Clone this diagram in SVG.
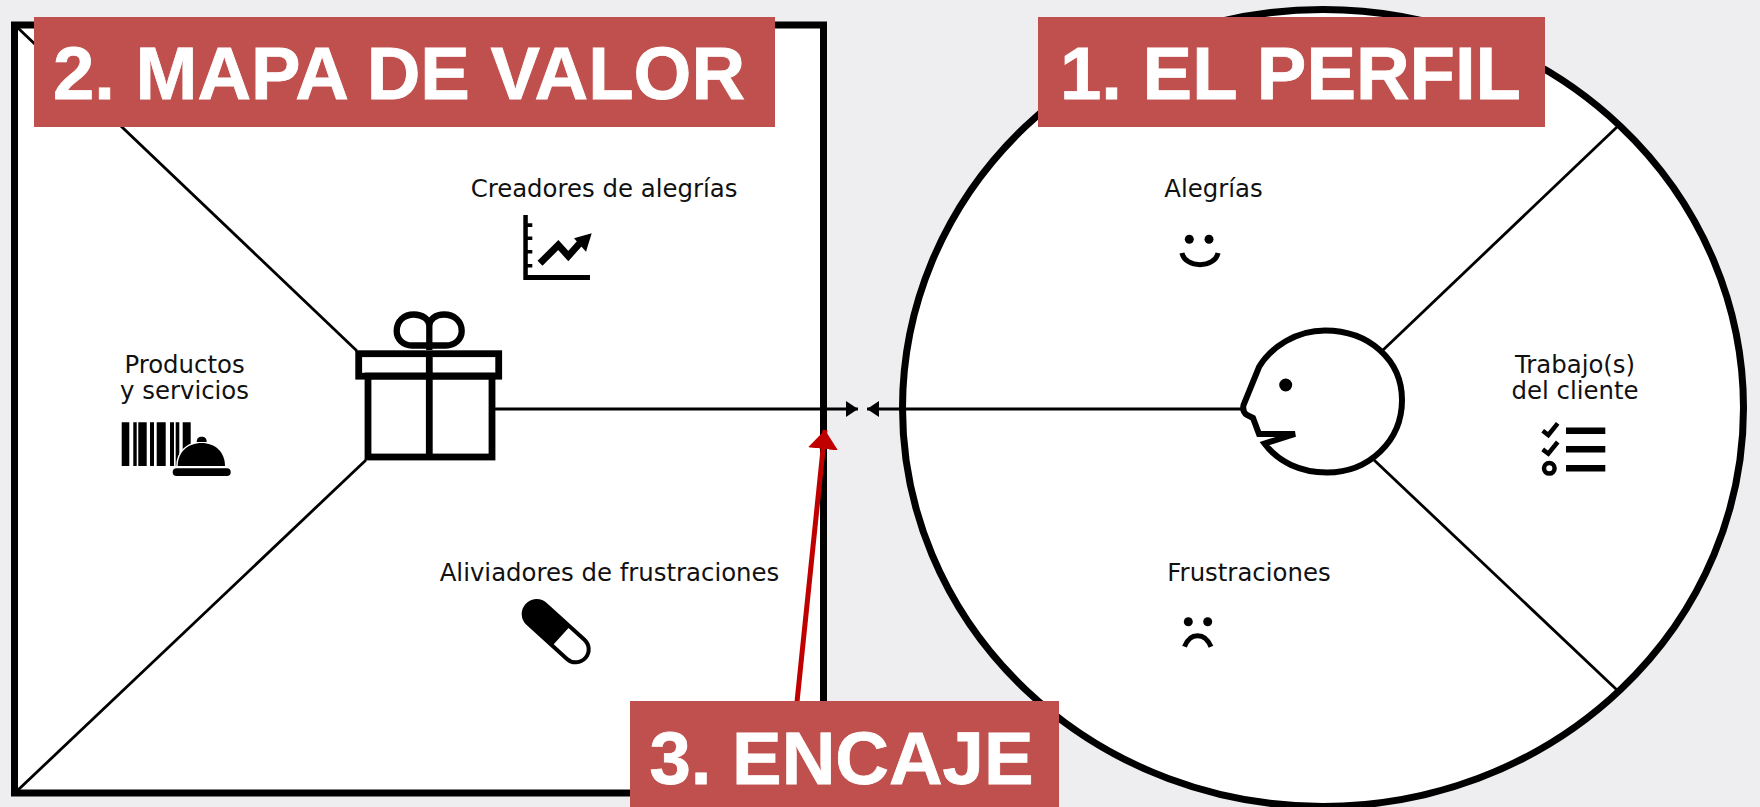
<svg xmlns="http://www.w3.org/2000/svg" width="1760" height="807" viewBox="0 0 1760 807">
<style>
.bk{fill:none;stroke:#000;stroke-linejoin:miter}
.sep{fill:none;stroke:#000;stroke-width:2.8}
.f{fill:#000;stroke:none}
.lb{font-family:"DejaVu Sans","Liberation Sans",sans-serif;font-size:24.4px;fill:#111;text-anchor:middle}
.banner{fill:#c0504d}
.bt{font-family:"Liberation Sans",Arial,sans-serif;font-weight:700;font-size:74.3px;fill:#fff;stroke:#fff;stroke-width:0.8;text-anchor:middle}
</style>
<defs>
<marker id="ah" markerUnits="userSpaceOnUse" markerWidth="14" markerHeight="16" refX="12" refY="8" orient="auto"><path d="M0 0L12 8L0 16Z" fill="#000"/></marker>
<marker id="ahr" markerUnits="userSpaceOnUse" markerWidth="20" markerHeight="30" refX="19" refY="15" orient="auto"><path d="M0 0L19 15L0 30Z" fill="#c00000"/></marker>
</defs>
<rect width="1760" height="807" fill="#eeeef0"/>
<g id="value-map">
<rect x="14.500" y="25" width="809" height="768" fill="#fff" stroke="#000" stroke-width="7"/>
</g>
<g id="profile">
<ellipse cx="1323" cy="408" rx="420.500" ry="398.500" fill="#fff" stroke="#000" stroke-width="7"/>
</g>
<g id="connectors">
<line class="sep" x1="18" y1="28" x2="357" y2="351"/>
<line class="sep" x1="18" y1="790" x2="366" y2="460"/>
<line class="sep" x1="1382" y1="351" x2="1617" y2="127"/>
<line class="sep" x1="1374" y1="460" x2="1617" y2="690"/>
<line class="sep" x1="495" y1="409" x2="858" y2="409" marker-end="url(#ah)"/>
<line class="sep" x1="1243" y1="409" x2="867" y2="409" marker-end="url(#ah)"/>
<line fill="none" stroke="#c00000" stroke-width="5" x1="797" y1="702" x2="825" y2="430" marker-end="url(#ahr)"/>
</g>
<g id="gift">
<rect class="bk" x="358.700" y="353.700" width="140" height="22.500" stroke-width="6.800"/>
<rect class="bk" x="368" y="376" width="124" height="81" stroke-width="6.800"/>
<line class="bk" x1="429.300" y1="351" x2="429.300" y2="458" stroke-width="6.800"/>
<path class="bk" stroke-width="6.300" stroke-linejoin="round" d="M429.300 326C429.300 319 422 314.500 414 314.500C404 314.500 396.700 321 396.700 331C396.700 339 403 345.500 412 345.500H446C455 345.500 461.700 339 461.700 331C461.700 321 454 314.500 444 314.500C436 314.500 429.300 319 429.300 326V350"/>
</g>
<g id="person">
<path class="bk" stroke-width="6" d="M1295 434L1264.500 443.500C1278 462 1301 472.500 1327 472.500C1369 472.500 1402 441 1402 400C1402 360 1369 330.500 1325 330.500C1296 330.500 1271 347 1259 367L1243.500 405C1242.500 410 1244 413 1247 415L1253 418L1259 434Z"/>
<circle class="f" cx="1285.700" cy="385" r="6.500"/>
</g>
<g id="node-creadores">
<text class="lb" x="604" y="196.500">Creadores de alegrías</text>
<path class="f" d="M523.300 215h4.500v60H590v5h-66.700zM527.800 223.300h4.500v3.600h-4.500zM527.800 236.500h4.500v3.600h-4.500zM527.800 250h4.500v3.600h-4.500zM527.800 264h4.500v3.600h-4.500z"/>
<path class="bk" stroke-width="7" d="M540 263.300L558.300 245L568.300 256L580 243"/>
<path class="f" d="M591.700 233.300L574 238.300L586 251.700Z"/>
</g>
<g id="node-productos">
<text class="lb" x="184.500" y="373">Productos</text>
<text class="lb" x="184.500" y="398.500">y servicios</text>
<path class="f" d="M121.700 422.300h7.600V466h-7.600zM133.300 422.300h3.400V466h-3.400zM138.300 422.300h8.400V466h-8.400zM150 422.300h4V466h-4zM156.700 422.300h9V466h-9zM170 422.300h4V466h-4zM175.700 422.300h3.600V466h-3.600zM182.700 422.300h8v28h-8z"/>
<path d="M177.700 466C177.700 452 188 443 201.700 443C215 443 225 452 225 466Z" fill="#000" stroke="#fff" stroke-width="3" paint-order="stroke"/>
<path class="f" d="M196.700 442C196.700 438 199 436.700 201.700 436.700C204.500 436.700 206.700 438 206.700 442Z"/>
<rect class="f" x="172.700" y="468.300" width="58" height="7.700" rx="3.800"/>
</g>
<g id="node-aliviadores">
<text class="lb" x="609.500" y="580.700">Aliviadores de frustraciones</text>
<line x1="536.700" y1="614" x2="575.700" y2="649.300" stroke="#000" stroke-width="30" stroke-linecap="round"/>
<path d="M553.700 644.300L568.300 657.500A11 11 0 0 0 583.100 641.200L568.500 628Z" fill="#fff"/>
</g>
<g id="node-alegrias">
<text class="lb" x="1213.500" y="196.500">Alegrías</text>
<circle class="f" cx="1189.300" cy="239.300" r="4.500"/>
<circle class="f" cx="1209" cy="239.300" r="4.500"/>
<path class="bk" stroke-width="5" d="M1182 253C1185 268.500 1215 268.500 1218 253"/>
</g>
<g id="node-trabajos">
<text class="lb" x="1575" y="373">Trabajo(s)</text>
<text class="lb" x="1575" y="399">del cliente</text>
<path class="bk" stroke-width="4.500" d="M1542.700 430.700L1548.300 435L1557.700 423.300M1542.700 449.400L1548.300 453.700L1557.700 442"/>
<circle class="bk" cx="1549.300" cy="468.300" r="5.300" stroke-width="4.500"/>
<path class="f" d="M1566 427.500h39.300v6.500H1566zM1566 446h39.300v6.500H1566zM1566 465h39.300v6.500H1566z"/>
</g>
<g id="node-frustraciones">
<text class="lb" x="1249" y="581">Frustraciones</text>
<circle class="f" cx="1188.300" cy="621.700" r="4.500"/>
<circle class="f" cx="1207.700" cy="621.700" r="4.500"/>
<path class="bk" stroke-width="5" d="M1184.500 646.700C1190 632 1205 632 1211 646.700"/>
</g>
<g id="label-mapa">
<rect class="banner" x="34" y="17" width="741" height="110"/>
<text class="bt" x="399" y="99">2. MAPA DE VALOR</text>
</g>
<g id="label-perfil">
<rect class="banner" x="1038" y="17" width="507" height="110"/>
<text class="bt" x="1290.500" y="99">1. EL PERFIL</text>
</g>
<g id="label-encaje">
<rect class="banner" x="630" y="701" width="429" height="106"/>
<text class="bt" x="841.500" y="784">3. ENCAJE</text>
</g>
</svg>
